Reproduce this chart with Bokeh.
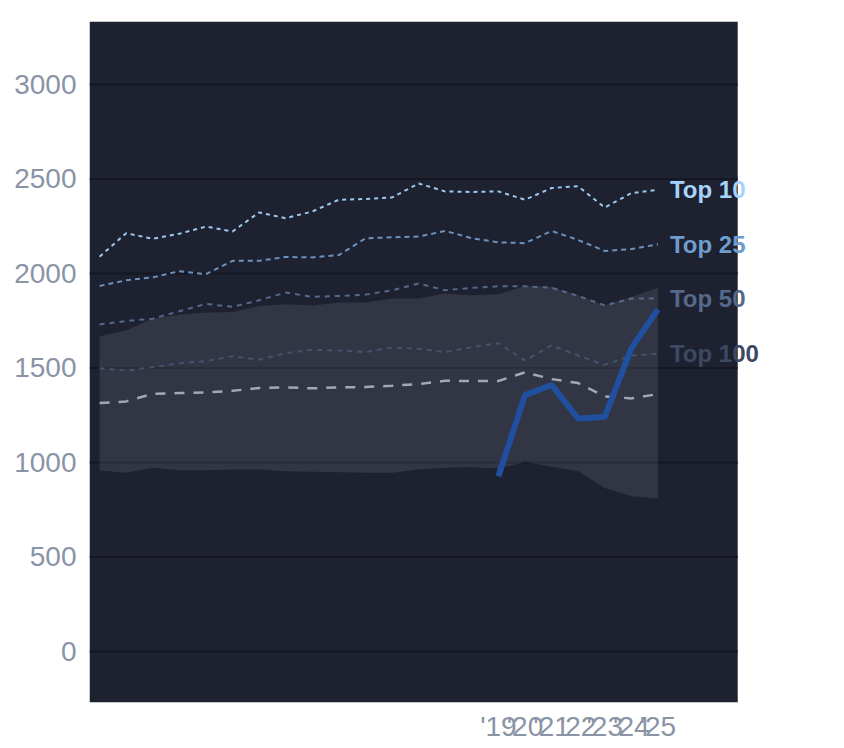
from bokeh.plotting import figure
from bokeh.models import Label, FixedTicker, Range1d, BoxAnnotation
from bokeh.embed import file_html
from bokeh.resources import INLINE

years = list(range(2004, 2026))
top10 = [2089, 2213, 2183, 2210, 2248, 2222, 2323, 2292, 2328, 2390, 2394, 2402, 2476,
         2434, 2431, 2434, 2390, 2452, 2461, 2349, 2425, 2443]
top25 = [1934, 1964, 1979, 2012, 1996, 2067, 2067, 2087, 2085, 2097, 2186, 2191, 2195,
         2225, 2186, 2165, 2160, 2225, 2177, 2119, 2129, 2154]
top50 = [1730, 1748, 1761, 1800, 1839, 1823, 1858, 1899, 1876, 1881, 1888, 1911, 1947,
         1911, 1924, 1932, 1932, 1924, 1881, 1831, 1867, 1867]
top100 = [1498, 1486, 1505, 1525, 1536, 1562, 1544, 1578, 1596, 1592, 1584, 1608, 1601,
          1584, 1610, 1631, 1539, 1619, 1566, 1516, 1566, 1574]
median = [1314, 1323, 1363, 1367, 1371, 1379, 1394, 1397, 1392, 1397, 1399, 1406, 1415,
          1432, 1431, 1431, 1477, 1441, 1420, 1349, 1339, 1362]
band_hi = [1668, 1699, 1761, 1782, 1793, 1796, 1828, 1837, 1831, 1846, 1846, 1867, 1867,
           1894, 1885, 1890, 1934, 1929, 1885, 1831, 1876, 1924]
band_lo = [957, 945, 972, 959, 959, 963, 963, 954, 951, 948, 945, 945, 963,
           972, 975, 968, 1002, 977, 954, 865, 821, 809]
team_years = [2019, 2020, 2021, 2022, 2023, 2024, 2025]
team = [927, 1356, 1410, 1232, 1241, 1605, 1810]
x_ticks = [2019, 2020, 2021, 2022, 2023, 2024, 2025]
x_tick_labels = ["'19", "'20", "'21", "'22", "'23", "'24", "'25"]
y_ticks = [0, 500, 1000, 1500, 2000, 2500, 3000]
label_names = ["Top 10", "Top 25", "Top 50", "Top 100"]

BG = "#1d2130"
GRID = "#151823"
TICK = "#8a94a6"

X0, X_BG_END, X1 = 2003.62, 2028.0, 2030.7

p = figure(frame_width=720, frame_height=681, output_backend="svg",
           toolbar_location=None, x_range=Range1d(X0, X1),
           y_range=Range1d(-270, 3333),
           min_border_left=89, min_border_top=21, min_border_right=20,
           min_border_bottom=30)
p.background_fill_color = "white"
p.border_fill_color = "white"
p.outline_line_color = None
p.xgrid.grid_line_color = None
p.ygrid.grid_line_color = None

# dark plot area (ends where the chart's own area ends; labels overhang it)
p.add_layout(BoxAnnotation(left=X0, right=X_BG_END, fill_color=BG, fill_alpha=1,
                           line_color=None, level="underlay"))

for ax in (p.xaxis[0], p.yaxis[0]):
    ax.axis_line_color = None
    ax.major_tick_line_color = None
    ax.minor_tick_line_color = None
    ax.major_label_text_color = TICK
    ax.major_label_text_font = "Liberation Sans"
    ax.major_label_text_font_size = "28px"

p.yaxis.ticker = FixedTicker(ticks=y_ticks)
p.yaxis.major_label_standoff = 7
p.xaxis.ticker = FixedTicker(ticks=x_ticks)
p.xaxis.major_label_overrides = {t: l for t, l in zip(x_ticks, x_tick_labels)}
p.xaxis.major_label_standoff = 2

# horizontal grid lines inside the dark area
p.segment(x0=[X0] * len(y_ticks), x1=[X_BG_END] * len(y_ticks), y0=y_ticks, y1=y_ticks,
          line_color=GRID, line_width=2)

p.varea(x=years, y1=band_lo, y2=band_hi, fill_color="white", fill_alpha=0.095)

p.line(years, median, line_color="#a3a8b3", line_width=2.5, line_dash="10 9")
p.line(years, top100, line_color="#46526e", line_width=2, line_dash="5 5")
p.line(years, top50, line_color="#56698c", line_width=2, line_dash="5 5")
p.line(years, top25, line_color="#6b92bd", line_width=2, line_dash="5 4")
p.line(years, top10, line_color="#9ccaef", line_width=2, line_dash="4 4")

p.line(team_years, team, line_color="#1f4f9e", line_width=6)

label_vals = [top10[-1], top25[-1], top50[-1], top100[-1]]
label_colors = ["#a6d3fb", "#6e9dcc", "#56698a", "#3e4862"]
for name, val, col in zip(label_names, label_vals, label_colors):
    p.add_layout(Label(x=years[-1], y=val, x_offset=12, text=name,
                       text_color=col, text_font="Liberation Sans",
                       text_font_style="bold", text_font_size="24px",
                       text_baseline="middle"))

open("out.html", "w").write(file_html(p, INLINE))
